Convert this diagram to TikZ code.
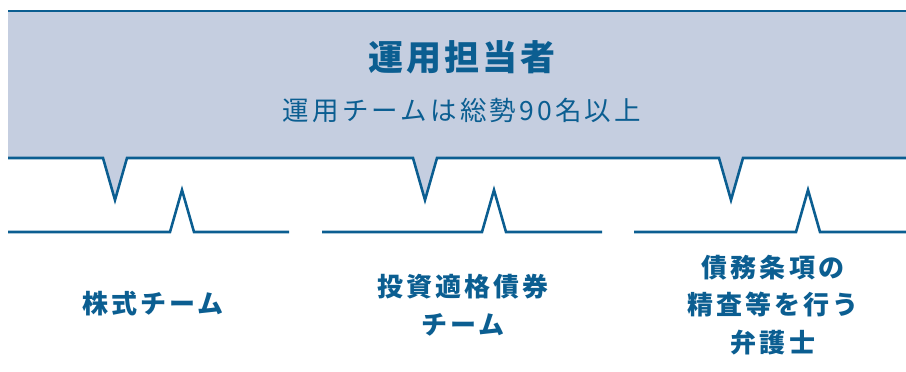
\documentclass[tikz,border=0pt]{standalone}
\usepackage{fontspec}
\setmainfont{Noto Sans CJK JP}
\newfontfamily\jpwide{Noto Sans CJK JP}[LetterSpace=12]
\newfontfamily\jptight{Noto Sans CJK JP}[LetterSpace=8]
\usetikzlibrary{positioning}

\definecolor{teamblue}{HTML}{0B5E91}
\definecolor{panelgrey}{HTML}{C5CEE0}

\begin{document}
\begin{tikzpicture}[
        x=1pt, y=-1pt,
        % Line styles
        edge/.style={
            draw=teamblue,
            line width=2.6pt,
            line join=miter
        },
        % Text styles
        title/.style={
            inner sep=0pt,
            text=teamblue,
            font=\jptight\bfseries\fontsize{35}{42}\selectfont
        },
        subtitle/.style={
            inner sep=0pt,
            text=teamblue,
            font=\jpwide\fontsize{26.5}{32}\selectfont
        },
        team/.style={
            inner sep=0pt,
            align=center,
            text=teamblue,
            font=\jpwide\bfseries\fontsize{26}{37.5}\selectfont
        }
    ]
    \useasboundingbox (0,0) rectangle (906,372);

    % Panel
    \fill[panelgrey] (8,11) -- (906,11) -- (906,158)
        -- (743,158) -- (731,200) -- (719,158)
        -- (437,158) -- (425,200) -- (413,158)
        -- (127,158) -- (115,200) -- (103,158)
        -- (8,158) -- cycle;
    \draw[edge] (8,11) -- (906,11);
    \draw[edge] (8,158)
        -- (103,158) -- (115,200) -- (127,158)
        -- (413,158) -- (425,200) -- (437,158)
        -- (719,158) -- (731,200) -- (743,158)
        -- (906,158);

    % Team lines
    \draw[edge] (8,232) -- (170,232) -- (182,190) -- (194,232) -- (289,232);
    \draw[edge] (322,232) -- (482,232) -- (494,190) -- (506,232) -- (602,232);
    \draw[edge] (634,232) -- (796,232) -- (808,190) -- (820,232) -- (906,232);

    % Texts
    \node[title] (staff) at (462,57) {運用担当者};
    \node[subtitle] (total) at (462,110) {運用チームは総勢90名以上};
    \node[team] (equity) at (153,304) {株式チーム};
    \node[team] (bond) at (463,305) {投資適格債券\\チーム};
    \node[team] (lawyer) at (773,305) {債務条項の\\精査等を行う\\弁護士};
\end{tikzpicture}
\end{document}
